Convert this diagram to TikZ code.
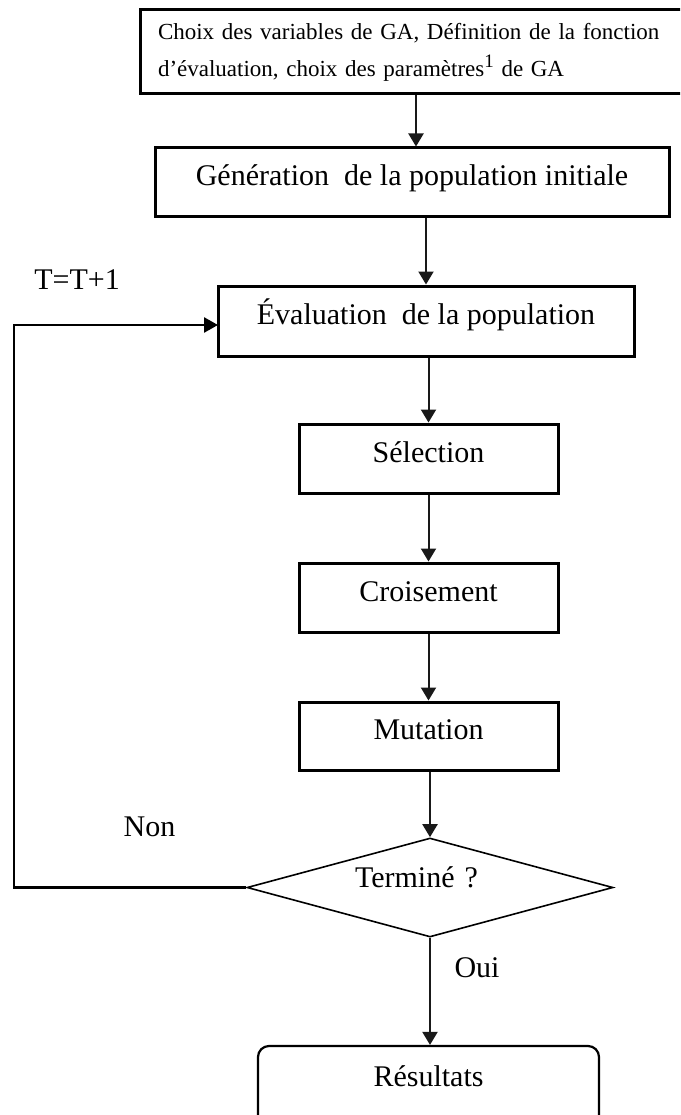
\documentclass[tikz,border=0pt]{standalone}
\usepackage{fontspec}
\setmainfont{Liberation Serif}
\usetikzlibrary{arrows.meta,shapes.geometric}
\begin{document}
\begin{tikzpicture}[x=1pt,y=-1pt,
  txt/.style={font=\fontsize{30}{36}\selectfont},
  stepbox/.style={txt, draw, line width=3pt, rectangle, inner sep=0pt,
    text height=17pt, text depth=10pt},
  flow/.style={line width=2pt, draw=black!90, -{Triangle[width=15pt,length=13pt]}},
  loopline/.style={line width=2.6pt, -{Triangle[width=15pt,length=14pt]}},
  lbl/.style={txt, inner sep=0pt}]
\useasboundingbox (0,0) rectangle (680,1115);
\clip (0,0) rectangle (680,1115);

% process boxes
\node[draw, line width=3pt, rectangle, inner sep=0pt,
      minimum width=550pt, minimum height=84pt,
      text width=514pt, align=left, font=\fontsize{23}{37}\selectfont]
  (init) at (415,52)
  {Choix des variables de GA, Définition de la fonction\\
   d'évaluation, choix des paramètres\raisebox{9pt}{\fontsize{19}{19}\selectfont 1} de GA};
\node[stepbox, minimum width=514pt, minimum height=69pt] (gen) at (412,182.5)
  {Génération\ \ de la population initiale};
\node[stepbox, minimum width=416pt, minimum height=70pt] (eval) at (426,321)
  {Évaluation\ \ de la population};
\node[stepbox, minimum width=259pt, minimum height=69pt] (sel) at (428.5,458.5)
  {Sélection};
\node[stepbox, minimum width=259pt, minimum height=69pt] (cross) at (428.5,597.5)
  {Croisement};
\node[stepbox, minimum width=259pt, minimum height=68pt] (mut) at (428.5,736)
  {Mutation};

% decision
\node[txt, draw, line width=1.6pt, diamond, aspect=3.7, inner sep=0pt,
      minimum width=366pt, minimum height=99pt,
      text width=150pt, align=left, text height=10pt, text depth=10pt]
  (done) at (430,887.5) {Terminé ?};

% terminal
\node[stepbox, line width=2.2pt, rounded corners=11pt,
      minimum width=341pt, minimum height=84pt,
      text height=8pt, text depth=12pt] (res) at (428.5,1088)
  {Résultats};

% side labels
\node[lbl] (iter) at (77,280) {T=T+1};
\node[lbl] (non) at (149.5,827) {Non};
\node[lbl] (oui) at (477,968) {Oui};

% connectors
\draw[flow] (init.south -| 416,0) -- (gen.north -| 416,0);
\draw[flow] (gen.south -| eval.north) -- (eval.north);
\draw[flow] (eval.south -| sel.north) -- (sel.north);
\draw[flow] (sel) -- (cross);
\draw[flow] (cross) -- (mut);
\draw[flow] (mut.south -| done.north) -- (done.north);
\draw[flow] (done.south) -- (done.south |- res.north);

\coordinate (back) at (14,887.5);
\draw[loopline] (done.west) -- (back) |- (218,325);
\end{tikzpicture}
\end{document}
